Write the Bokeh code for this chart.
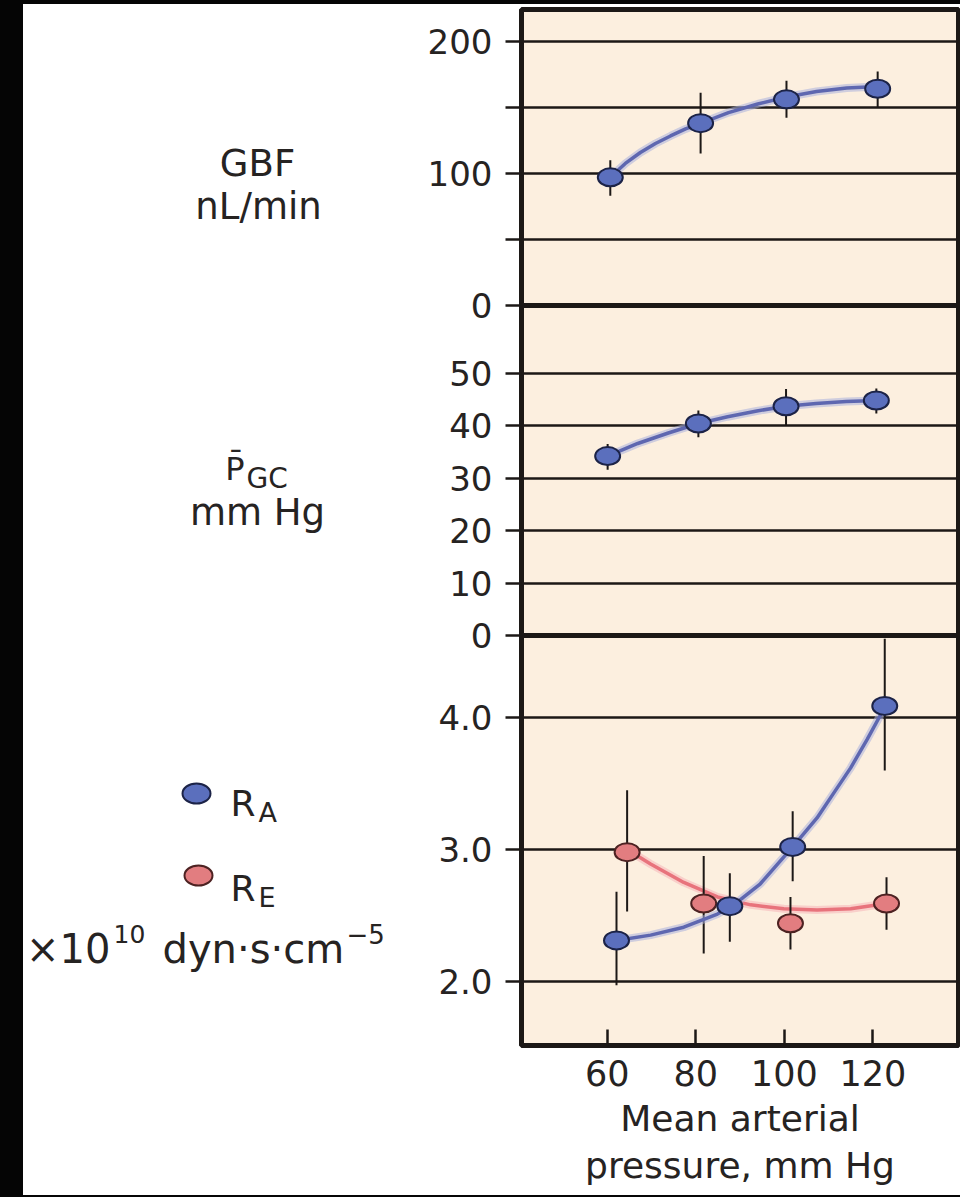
from bokeh.plotting import figure
from bokeh.models import (Range1d, FixedTicker, Label, PrintfTickFormatter, Spacer)
from bokeh.layouts import row, column
from bokeh.embed import file_html
from bokeh.resources import INLINE

# ---------------- data ----------------
pressure_ticks = [60, 80, 100, 120]

# GBF, nL/min
gbf_x = [60.7, 81.1, 100.5, 121.1]
gbf_y = [97, 138, 156, 164]
gbf_lo = [83, 115, 142, 150]
gbf_hi = [110, 161, 170, 177]
gbf_fit_x = [60.7, 64.1, 67.5, 70.9, 74.3, 77.7, 81.1, 87.4, 94.0, 100.5, 107.3, 114.1, 121.1]
gbf_fit_y = [97.1, 107.5, 115.8, 122.6, 128.3, 133.6, 137.9, 146.0, 152.5, 157.8, 161.9, 164.6, 165.7]
gbf_ticks = [0, 100, 200]
gbf_minor_ticks = [50, 150]
gbf_grid = [50, 100, 150, 200]

# P_GC, mm Hg
pgc_x = [60.1, 80.6, 100.4, 120.8]
pgc_y = [34.2, 40.4, 43.7, 44.8]
pgc_lo = [31.6, 37.8, 40.0, 42.3]
pgc_hi = [36.5, 42.9, 47.0, 47.1]
pgc_fit_x = [60.1, 66.9, 73.8, 80.6, 87.2, 93.8, 100.4, 107.2, 114.0, 120.8]
pgc_fit_y = [34.2, 36.6, 38.6, 40.4, 41.7, 42.8, 43.7, 44.2, 44.6, 44.8]
pgc_ticks = [0, 10, 20, 30, 40, 50]
pgc_grid = [10, 20, 30, 40, 50]

# R_A and R_E, x10^10 dyn.s.cm^-5
ra_x = [62.1, 87.7, 101.9, 122.7]
ra_y = [2.31, 2.57, 3.02, 4.09]
ra_lo = [1.97, 2.30, 2.76, 3.60]
ra_hi = [2.68, 2.82, 3.29, 4.60]
ra_fit_x = [62.1, 69.8, 77.3, 84.9, 88.6, 94.6, 101.9, 107.4, 111.2, 115.0, 118.7, 122.7]
ra_fit_y = [2.31, 2.35, 2.41, 2.51, 2.58, 2.74, 3.02, 3.24, 3.43, 3.62, 3.835, 4.08]

re_x = [64.5, 81.8, 101.4, 123.1]
re_y = [2.98, 2.59, 2.44, 2.59]
re_lo = [2.53, 2.21, 2.24, 2.39]
re_hi = [3.45, 2.95, 2.64, 2.79]
re_fit_x = [64.5, 69.8, 77.3, 84.9, 92.4, 99.9, 107.4, 115.0, 123.1]
re_fit_y = [3.00, 2.89, 2.75, 2.64, 2.58, 2.55, 2.54, 2.55, 2.59]
r_ticks = [2.0, 3.0, 4.0]

# ---------------- layout / style ----------------
FONT = "DejaVu Sans"
TXT = "#262322"
DARK = "#1c1816"
BEIGE = "#fcefdf"
BLACK = "#050505"
BLUE_FILL, BLUE_EDGE, BLUE_LINE, BLUE_HALO = "#5b6fbd", "#1c2347", "#5e67b0", "#aab0dc"
RED_FILL, RED_EDGE, RED_LINE, RED_HALO = "#e27d80", "#4d2222", "#e8737c", "#f5b5b8"

PAGE_W, PAGE_H = 960, 1197
LEFT_BAR, TOP_BAR, BOTTOM_BAR = 23, 4, 2
SPLIT_X = 400                   # text column | plot column
FRAME_LEFT, FRAME_RIGHT = 521, 958
OVERLAP = 24                    # room below a panel for its "0" label

X_RANGE = (40.64, 139.36)
gbf_range = (0, 224)
pgc_range = (0, 62.9)
r_range = (1.512, 4.625)
# page y of the panel edges
Y_TOP, Y_12, Y_23, Y_AXIS = 9, 305, 635, 1045

inner_h = PAGE_H - TOP_BAR - BOTTOM_BAR
plot_w = PAGE_W - SPLIT_X


def panel(height, yr, border_top, border_bottom, z, first=False):
    f = figure(width=plot_w, height=height, output_backend="svg",
               toolbar_location=None, x_range=Range1d(*X_RANGE),
               y_range=Range1d(*yr),
               min_border_left=FRAME_LEFT - SPLIT_X,
               min_border_right=PAGE_W - FRAME_RIGHT,
               min_border_top=border_top, min_border_bottom=border_bottom,
               background_fill_color=BEIGE, border_fill_color=None,
               outline_line_color=DARK, outline_line_width=5)
    # panels overlap a little so that the "0" label on a boundary stays
    # whole inside its own panel; the upper panel is stacked above
    f.styles = {"z-index": str(z), "position": "relative"}
    if not first:
        f.margin = (-OVERLAP, 0, 0, 0)
    f.xgrid.visible = False
    g = f.ygrid[0]
    g.grid_line_color = DARK
    g.grid_line_width = 2.5
    ya = f.yaxis[0]
    ya.axis_line_color = DARK
    ya.axis_line_width = 4
    ya.major_tick_out = 16
    ya.major_tick_in = 0
    ya.major_tick_line_color = DARK
    ya.major_tick_line_width = 2.5
    ya.minor_tick_out = 16
    ya.minor_tick_in = 0
    ya.minor_tick_line_color = None
    ya.minor_tick_line_width = 2.5
    ya.major_label_text_font = FONT
    ya.major_label_text_font_size = "34px"
    ya.major_label_text_color = TXT
    ya.major_label_standoff = 13
    return f


def series(f, xs, ys, lo, hi, fx, fy, fill, edge, line, halo):
    f.line(fx, fy, line_color=halo, line_width=8, line_alpha=0.55)
    f.line(fx, fy, line_color=line, line_width=3.5)
    f.segment(x0=xs, y0=lo, x1=xs, y1=hi, line_color=DARK, line_width=2)
    return f.ellipse(x=xs, y=ys, width=25, height=18, width_units="screen",
                     height_units="screen", fill_color=fill, line_color=edge,
                     line_width=2)


# ---- panel 1: GBF ----
p1 = panel(Y_12 - TOP_BAR + OVERLAP, gbf_range, Y_TOP - TOP_BAR, OVERLAP, 3, first=True)
p1.xaxis.visible = False
p1.yaxis[0].ticker = FixedTicker(ticks=gbf_ticks, minor_ticks=gbf_minor_ticks)
p1.yaxis[0].minor_tick_line_color = DARK
p1.ygrid[0].ticker = FixedTicker(ticks=gbf_grid)
series(p1, gbf_x, gbf_y, gbf_lo, gbf_hi, gbf_fit_x, gbf_fit_y,
       BLUE_FILL, BLUE_EDGE, BLUE_LINE, BLUE_HALO)

# ---- panel 2: P_GC ----
p2 = panel(Y_23 - Y_12 + OVERLAP, pgc_range, 0, OVERLAP, 2)
p2.xaxis.visible = False
p2.yaxis[0].ticker = FixedTicker(ticks=pgc_ticks)
p2.ygrid[0].ticker = FixedTicker(ticks=pgc_grid)
series(p2, pgc_x, pgc_y, pgc_lo, pgc_hi, pgc_fit_x, pgc_fit_y,
       BLUE_FILL, BLUE_EDGE, BLUE_LINE, BLUE_HALO)

# ---- panel 3: R_A, R_E ----
p3 = panel(PAGE_H - BOTTOM_BAR - Y_23, r_range, 0, PAGE_H - BOTTOM_BAR - Y_AXIS, 1)
p3.yaxis[0].ticker = FixedTicker(ticks=r_ticks)
p3.yaxis[0].formatter = PrintfTickFormatter(format="%.1f")
p3.ygrid[0].ticker = FixedTicker(ticks=r_ticks)
xa = p3.xaxis[0]
xa.ticker = FixedTicker(ticks=pressure_ticks)
xa.axis_line_color = DARK
xa.axis_line_width = 4
xa.major_tick_in = 16
xa.major_tick_out = 0
xa.major_tick_line_color = DARK
xa.major_tick_line_width = 2.5
xa.minor_tick_line_color = None
xa.major_label_text_font = FONT
xa.major_label_text_font_size = "35px"
xa.major_label_text_color = TXT
xa.major_label_standoff = 14
xa.axis_label = "Mean arterial\npressure, mm Hg"
xa.axis_label_text_font = FONT
xa.axis_label_text_font_size = "36px"
xa.axis_label_text_font_style = "normal"
xa.axis_label_text_color = TXT
xa.axis_label_text_line_height = 1.17
xa.axis_label_standoff = 9
series(p3, re_x, re_y, re_lo, re_hi, re_fit_x, re_fit_y,
       RED_FILL, RED_EDGE, RED_LINE, RED_HALO)
series(p3, ra_x, ra_y, ra_lo, ra_hi, ra_fit_x, ra_fit_y,
       BLUE_FILL, BLUE_EDGE, BLUE_LINE, BLUE_HALO)

# ---- text column (left): quantity names, legend, units ----
pt = figure(width=SPLIT_X - LEFT_BAR, height=inner_h, output_backend="svg",
            toolbar_location=None, x_axis_location=None, y_axis_location=None,
            x_range=Range1d(LEFT_BAR, SPLIT_X),
            y_range=Range1d(PAGE_H - BOTTOM_BAR, TOP_BAR),
            min_border=0, outline_line_color=None,
            background_fill_color="white", border_fill_color="white")
pt.xgrid.visible = False
pt.ygrid.visible = False


def txt(text, x, y, size, align="left"):
    pt.add_layout(Label(x=x, y=y, text=text, text_align=align,
                        text_baseline="alphabetic", text_font=FONT,
                        text_font_size=f"{size}px", text_color=TXT))


txt("GBF", 257, 163, 37, "center")
txt("nL/min", 258, 206, 37, "center")
txt("P\u0304", 244, 468, 32, "right")
txt("GC", 246, 478, 28)
txt("mm Hg", 257, 512, 37, "center")

# legend keys
legend_keys_x = [196, 198]
legend_keys_y = [793, 875]
pt.ellipse(x=legend_keys_x[:1], y=legend_keys_y[:1], width=28, height=20,
           width_units="screen", height_units="screen",
           fill_color=BLUE_FILL, line_color=BLUE_EDGE, line_width=2)
pt.ellipse(x=legend_keys_x[1:], y=legend_keys_y[1:], width=28, height=20,
           width_units="screen", height_units="screen",
           fill_color=RED_FILL, line_color=RED_EDGE, line_width=2)
txt("R", 230, 803, 36)
txt("A", 258, 812, 27)
txt("R", 230, 888, 36)
txt("E", 258, 897, 27)

txt("\u00d710", 110, 948, 40, "right")
txt("10", 113, 933, 25)
txt("dyn\u00b7s\u00b7cm", 162, 948, 40)
txt("\u22125", 346, 933, 26)

# ---- page assembly ----
top_bar = Spacer(width=PAGE_W, height=TOP_BAR, margin=0,
                 styles={"background-color": BLACK})
bottom_bar = Spacer(width=PAGE_W, height=BOTTOM_BAR, margin=0,
                    styles={"background-color": BLACK})
left_bar = Spacer(width=LEFT_BAR, height=inner_h, margin=0,
                  styles={"background-color": BLACK})
plots = column(p1, p2, p3, spacing=0)
root = column(top_bar, row(left_bar, pt, plots, spacing=0), bottom_bar, spacing=0)

open("out.html", "w").write(file_html(root, INLINE))
